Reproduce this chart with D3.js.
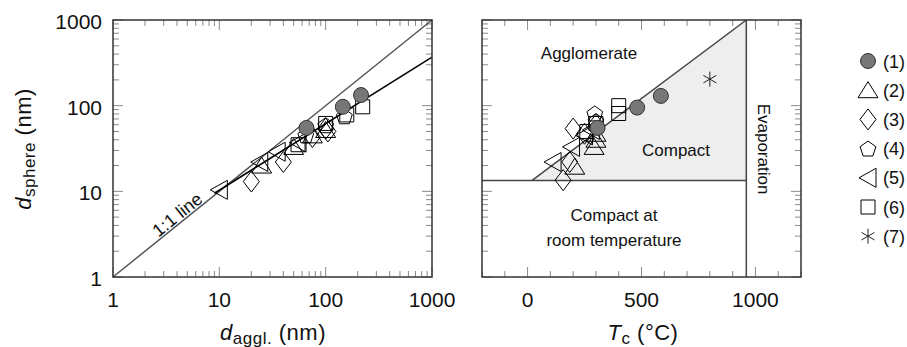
<!DOCTYPE html>
<html><head><meta charset="utf-8">
<script src="https://cdn.jsdelivr.net/npm/d3@7"></script>
<style>body{margin:0;background:#fff}svg{display:block}text{font-family:"Liberation Sans",Arial,sans-serif;fill:#111}</style>
</head><body><svg id="c" width="907" height="347"></svg>
<script>
// ---------- data ----------
const seriesNames = ["(1)","(2)","(3)","(4)","(5)","(6)","(7)"];
const shapes = ["circle","triUp","diamond","pentagon","triLeft","square","asterisk"];
// left panel: [series index, d_aggl (nm), d_sphere (nm)]
const leftPoints = [
  [4,10,10.4],[4,24,22],[4,35,29],[4,55,37],
  [1,25,20],[1,50,33],[1,75,45],[1,100,52],
  [2,20,13],[2,40,22],[2,75,43],[2,100,54],[2,105,50],
  [3,100,59],[3,150,75],[3,65,45],
  [5,55,35],[5,100,62],[5,158,78],[5,223,97],
  [0,66,55],[0,145,97],[0,215,133]
];
// right panel: [series index, Tc (°C), d_sphere (nm)]
const rightPoints = [
  [4,112,22],[4,193,33],[4,250,45],[4,280,52],
  [1,207,19.4],[1,292,33],[1,300,40],[1,300,47],
  [2,156,13.5],[2,185,22],[2,200,54],[2,250,47],[2,300,60],
  [3,295,81],[3,300,66],
  [5,260,50],[5,300,62],[5,400,100],[5,400,81],
  [0,307,55],[0,481,95],[0,585,130],
  [6,800,204]
];
const identityLine = [[1,1],[1000,1000]];
const fitLine = [[9,9.5],[1000,369]];
const logTicks = [1,10,100,1000];
const tcTicks = [0,500,1000];
// regime boundaries (right panel)
const dCompactRoom = 13.4, tRoom = 20, tEvap = 960, dTop = 1000;

// ---------- layout ----------
const svg = d3.select("#c");
const L = {x0:113,x1:432,y0:20,y1:277};
const R = {x0:482,x1:801,y0:20,y1:277};
const xL = d3.scaleLog().domain([1,1000]).range([L.x0,L.x1]);
const yS = d3.scaleLog().domain([1,1000]).range([L.y1,L.y0]);
const xR = d3.scaleLinear().domain([-200,1200]).range([R.x0,R.x1]);

function minorLog(){const a=[];for(let e=0;e<3;e++)for(let k=2;k<=9;k++)a.push(k*Math.pow(10,e));return a;}
const tickCol="#8a8a8a";
function logTicksOn(g, scale, box, orient){
  const maj=logTicks, mn=minorLog();
  const draw=(vals,len)=>vals.forEach(v=>{
    const p=scale(v);
    if(orient==="x"){
      g.append("line").attr("x1",p).attr("x2",p).attr("y1",box.y1).attr("y2",box.y1-len).attr("stroke",tickCol);
      g.append("line").attr("x1",p).attr("x2",p).attr("y1",box.y0).attr("y2",box.y0+len).attr("stroke",tickCol);
    } else {
      g.append("line").attr("y1",p).attr("y2",p).attr("x1",box.x0).attr("x2",box.x0+len).attr("stroke",tickCol);
      g.append("line").attr("y1",p).attr("y2",p).attr("x1",box.x1).attr("x2",box.x1-len).attr("stroke",tickCol);
    }
  });
  draw(mn,6); draw(maj,10);
}

// symbols
function symbolPath(shape){
  switch(shape){
    case "triUp": return "M0,-8.5L10,7.5L-10,7.5Z";
    case "diamond": return "M0,-10.5L8,0L0,10.5L-8,0Z";
    case "pentagon": { const r=8.3; let s=""; for(let i=0;i<5;i++){const a=-Math.PI/2+i*2*Math.PI/5; s+=(i?"L":"M")+(r*Math.cos(a)).toFixed(2)+","+(r*Math.sin(a)+0.7).toFixed(2);} return s+"Z"; }
    case "triLeft": return "M-9,0L8,-9.5L8,9.5Z";
    case "square": return "M-7,-7H7V7H-7Z";
    case "asterisk": { const r=7.5; let s=""; [90,30,-30].forEach(a=>{const c=Math.cos(a*Math.PI/180)*r, d=Math.sin(a*Math.PI/180)*r; s+=`M${-c},${-d}L${c},${d}`;}); return s; }
  }
}
function drawMarker(g, shape, x, y){
  if(shape==="circle"){
    g.append("circle").attr("cx",x).attr("cy",y).attr("r",7.5).attr("fill","#777").attr("stroke","#333").attr("stroke-width",1);
  } else {
    g.append("path").attr("d",symbolPath(shape)).attr("transform",`translate(${x},${y})`)
      .attr("fill","none").attr("stroke",shape==="asterisk"?"#222":"#000").attr("stroke-width",1);
  }
}

// ---------- left panel ----------
const gl = svg.append("g");
logTicksOn(gl,xL,L,"x"); logTicksOn(gl,yS,L,"y");
const line = d3.line();
gl.append("path").attr("d",line(identityLine.map(d=>[xL(d[0]),yS(d[1])]))).attr("stroke","#555").attr("stroke-width",1.5).attr("fill","none");
gl.append("path").attr("d",line(fitLine.map(d=>[xL(d[0]),yS(d[1])]))).attr("stroke","#000").attr("stroke-width",1.5).attr("fill","none");
leftPoints.forEach(p=>drawMarker(gl,shapes[p[0]],xL(p[1]),yS(p[2])));
gl.append("rect").attr("x",L.x0).attr("y",L.y0).attr("width",L.x1-L.x0).attr("height",L.y1-L.y0).attr("fill","none").attr("stroke","#333").attr("stroke-width",1.5);
// 1:1 label
const ang = Math.atan2(yS(10)-yS(1), xL(10)-xL(1))*180/Math.PI;
gl.append("text").attr("transform",`translate(${xL(4.1)+3},${yS(4.1)-5}) rotate(${ang})`).attr("text-anchor","middle").attr("font-size",18).text("1:1 line");
// tick labels
logTicks.forEach(v=>{
  gl.append("text").attr("x",xL(v)).attr("y",307).attr("text-anchor","middle").attr("font-size",21).text(v);
  gl.append("text").attr("x",102).attr("y",yS(v)+9).attr("text-anchor","end").attr("font-size",21).text(v);
});
// titles
const xt = gl.append("text").attr("x",273).attr("y",340).attr("text-anchor","middle").attr("font-size",22).attr("letter-spacing",0.5);
xt.append("tspan").attr("font-style","italic").text("d");
xt.append("tspan").attr("font-size",17).attr("dy",4).text("aggl.");
xt.append("tspan").attr("dy",-4).text(" (nm)");
const yt = gl.append("text").attr("transform","translate(31,149) rotate(-90)").attr("text-anchor","middle").attr("font-size",22).attr("letter-spacing",0.5);
yt.append("tspan").attr("font-style","italic").text("d");
yt.append("tspan").attr("font-size",17).attr("dy",4).text("sphere");
yt.append("tspan").attr("dy",-4).text(" (nm)");

// ---------- right panel ----------
const gr = svg.append("g");
const tri = [[xR(tRoom),yS(dCompactRoom)],[xR(tEvap),yS(dTop)],[xR(tEvap),yS(dCompactRoom)]];
gr.append("path").attr("d",line(tri)+"Z").attr("fill","#eeeeee");
logTicksOn(gr,yS,R,"y");
d3.range(-200,1201,100).forEach(v=>{
  const len = tcTicks.includes(v)?10:6, p=xR(v);
  gr.append("line").attr("x1",p).attr("x2",p).attr("y1",R.y1).attr("y2",R.y1-len).attr("stroke",tickCol);
  gr.append("line").attr("x1",p).attr("x2",p).attr("y1",R.y0).attr("y2",R.y0+len).attr("stroke",tickCol);
});
const bCol="#444";
gr.append("line").attr("x1",R.x0).attr("x2",xR(tEvap)).attr("y1",yS(dCompactRoom)).attr("y2",yS(dCompactRoom)).attr("stroke",bCol).attr("stroke-width",1.5);
gr.append("line").attr("x1",xR(tEvap)).attr("x2",xR(tEvap)).attr("y1",R.y0).attr("y2",R.y1).attr("stroke",bCol).attr("stroke-width",1.5);
gr.append("line").attr("x1",xR(tRoom)).attr("x2",xR(tEvap)).attr("y1",yS(dCompactRoom)).attr("y2",yS(dTop)).attr("stroke",bCol).attr("stroke-width",1.5);
rightPoints.forEach(p=>drawMarker(gr,shapes[p[0]],xR(p[1]),yS(p[2])));
gr.append("rect").attr("x",R.x0).attr("y",R.y0).attr("width",R.x1-R.x0).attr("height",R.y1-R.y0).attr("fill","none").attr("stroke","#333").attr("stroke-width",1.5);
gr.append("text").attr("x",589).attr("y",59).attr("text-anchor","middle").attr("font-size",17).text("Agglomerate");
gr.append("text").attr("x",676).attr("y",156).attr("text-anchor","middle").attr("font-size",17).text("Compact");
gr.append("text").attr("x",614).attr("y",221).attr("text-anchor","middle").attr("font-size",17).text("Compact at");
gr.append("text").attr("x",614).attr("y",246).attr("text-anchor","middle").attr("font-size",17).text("room temperature");
gr.append("text").attr("transform","translate(758,149) rotate(90)").attr("text-anchor","middle").attr("font-size",17).text("Evaporation");
tcTicks.forEach(v=>gr.append("text").attr("x",xR(v)).attr("y",307).attr("text-anchor","middle").attr("font-size",21).text(v));
const rt = gr.append("text").attr("x",643).attr("y",340).attr("text-anchor","middle").attr("font-size",22).attr("letter-spacing",0.5);
rt.append("tspan").attr("font-style","italic").text("T");
rt.append("tspan").attr("font-size",17).attr("dy",4).text("c");
rt.append("tspan").attr("dy",-4).text(" (°C)");

// ---------- legend ----------
const lg = svg.append("g");
seriesNames.forEach((n,i)=>{
  const y = 61 + i*29.2;
  drawMarker(lg,shapes[i],868,y);
  lg.append("text").attr("x",883).attr("y",y+6.5).attr("font-size",18).text(n);
});
</script></body></html>
